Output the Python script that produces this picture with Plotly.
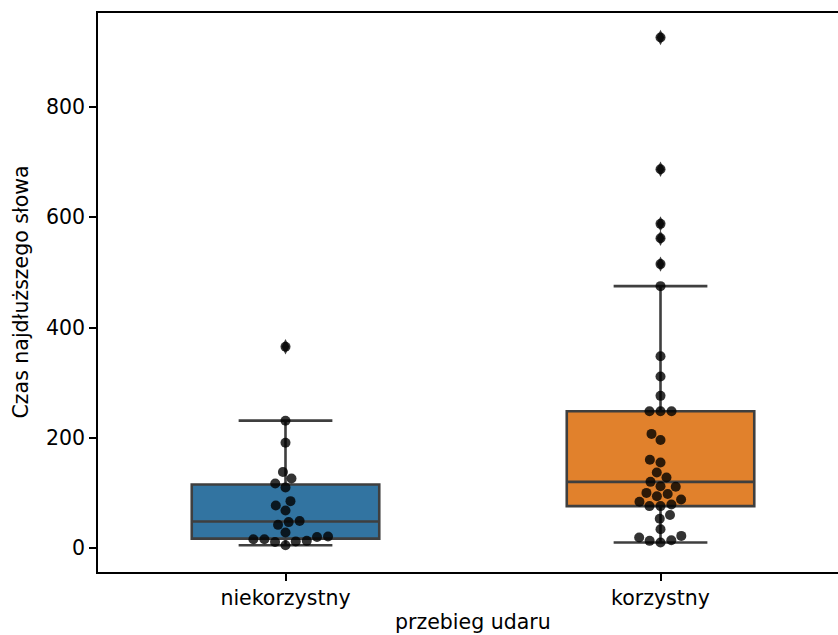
import numpy as np
import plotly.graph_objects as go

# ---- data ----
categories = ["niekorzystny", "korzystny"]
values_niekorzystny = [5, 11, 12, 13, 16, 16, 20, 21, 28, 42, 47, 49, 68, 77, 85,
                       110, 117, 126, 138, 191, 231, 365]
values_korzystny = [10, 13, 14, 19, 22, 34, 53, 60, 76, 76, 79, 84, 88, 94, 98, 100,
                    111, 112, 120, 128, 137, 155, 160, 196, 207, 248, 248, 248, 276,
                    311, 348, 475, 515, 562, 588, 687, 926]
y_ticks = [0, 200, 400, 600, 800]
x_label = "przebieg udaru"
y_label = "Czas najdłuższego słowa"

groups = [values_niekorzystny, values_korzystny]
fill_colors = ["#3274a1", "#e1812c"]
edge = "#3f3f3f"
FONT = "DejaVu Sans"
FS = 20.5

# layout geometry (pixels)
W, H = 838, 635
ML, MT, MB, MR = 98, 13, 63, 0
y_range = [-43.5, 970.5]
x_range = [-0.5, 1.4733]
plot_w = W - ML - MR
plot_h = H - MT - MB
px_per_x = plot_w / (x_range[1] - x_range[0])
px_per_y = plot_h / (y_range[1] - y_range[0])


def box_stats(v):
    v = np.asarray(v, float)
    q1, med, q3 = np.percentile(v, [25, 50, 75])
    iqr = q3 - q1
    lo = v[v >= q1 - 1.5 * iqr].min()
    hi = v[v <= q3 + 1.5 * iqr].max()
    out = v[(v < lo) | (v > hi)]
    return q1, med, q3, lo, hi, out


def swarm_offsets(v, d=10.5):
    v = np.asarray(v, float)
    order = np.argsort(v, kind="stable")
    placed = []
    offs = np.zeros(len(v))
    for idx in order:
        y = v[idx] * px_per_y
        nb = [(x, yy) for (x, yy) in placed if abs(yy - y) < d]
        cands = [0.0]
        for (x, yy) in nb:
            dx = np.sqrt(max(d * d - (y - yy) ** 2, 0)) * 1.05
            cands += [x - dx, x + dx]
        cands = sorted(cands, key=abs)
        chosen = cands[-1]
        for c in cands:
            if all((c - x) ** 2 + (y - yy) ** 2 >= d * d * 0.999 for (x, yy) in nb):
                chosen = c
                break
        placed.append((chosen, y))
        offs[idx] = chosen
    return offs / px_per_x


fig = go.Figure()

for i, (vals, col) in enumerate(zip(groups, fill_colors)):
    q1, med, q3, lo, hi, out = box_stats(vals)
    fig.add_trace(go.Box(
        x=[i], q1=[q1], median=[med], q3=[q3], lowerfence=[lo], upperfence=[hi],
        width=0.5, whiskerwidth=0.5, fillcolor=col,
        line=dict(color=edge, width=2.6), boxpoints=False,
        showlegend=False, hoverinfo="skip"))
    if len(out):
        fig.add_trace(go.Scatter(
            x=[i] * len(out), y=out, mode="markers",
            marker=dict(symbol="diamond-tall", size=11, color=edge,
                        line=dict(width=0)),
            showlegend=False, hoverinfo="skip"))

for i, vals in enumerate(groups):
    offs = swarm_offsets(vals)
    fig.add_trace(go.Scatter(
        x=i + offs, y=vals, mode="markers",
        marker=dict(size=10, color="rgba(0,0,0,0.8)", line=dict(width=0)),
        showlegend=False))

fig.update_layout(
    width=W, height=H,
    margin=dict(l=ML, r=MR, t=MT, b=MB, pad=0),
    paper_bgcolor="white", plot_bgcolor="white",
    boxmode="overlay",
    font=dict(family=FONT, size=FS, color="black"),
    xaxis=dict(range=x_range, tickmode="array", tickvals=list(range(len(categories))),
               ticktext=categories, showgrid=False, zeroline=False,
               showline=True, mirror=True, linecolor="black", linewidth=1.6,
               ticks="outside", ticklen=7, tickwidth=1.6, tickcolor="black",
               tickfont=dict(family=FONT, size=FS, color="black")),
    yaxis=dict(range=y_range, tickmode="array", tickvals=y_ticks,
               showgrid=False, zeroline=False,
               showline=True, mirror=False, linecolor="black", linewidth=1.6,
               ticks="outside", ticklen=7, tickwidth=1.6, tickcolor="black",
               tickfont=dict(family=FONT, size=FS, color="black")),
    annotations=[
        dict(text=x_label, xref="paper", yref="paper",
             x=(473 - ML) / plot_w, y=(MT + plot_h - 622) / plot_h,
             xanchor="center", yanchor="middle", showarrow=False,
             font=dict(family=FONT, size=FS, color="black")),
        dict(text=y_label, xref="paper", yref="paper",
             x=(20 - ML) / plot_w, y=0.5, textangle=-90,
             xanchor="center", yanchor="middle", showarrow=False,
             font=dict(family=FONT, size=FS, color="black")),
    ],
)

fig.write_html("out.html")
